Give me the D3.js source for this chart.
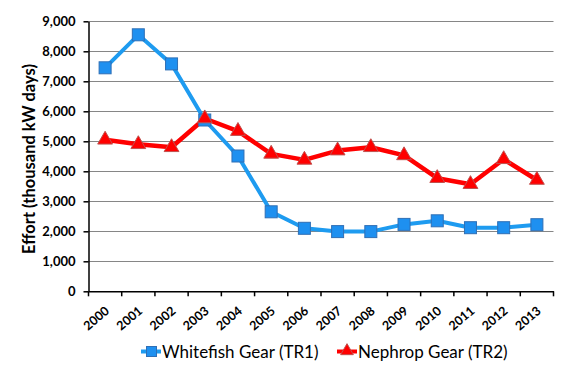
<!DOCTYPE html>
<html><head><meta charset="utf-8">
<script src="https://cdn.jsdelivr.net/npm/d3@7"></script>
<style>body{margin:0;background:#fff;} svg{display:block;font-family:Lato,"Open Sans",sans-serif;}</style>
</head><body>
<svg id="chart" width="586" height="379"></svg>
<script>
const years = ["2000","2001","2002","2003","2004","2005","2006","2007","2008","2009","2010","2011","2012","2013"];
const whitefish = [7450, 8550, 7580, 5710, 4510, 2650, 2100, 1990, 1990, 2230, 2350, 2120, 2120, 2220];
const nephrop = [5050, 4900, 4800, 5760, 5340, 4580, 4380, 4690, 4800, 4530, 3770, 3570, 4400, 3710];
const yTicks = [0,1000,2000,3000,4000,5000,6000,7000,8000,9000];
const seriesNames = ["Whitefish Gear (TR1)", "Nephrop Gear (TR2)"];
const yTitle = "Effort (thousand kW days)";

(function draw() {
const svg = d3.select("#chart");
const pLeft = 88.5, pRight = 553.5, pTop = 21.3, pBottom = 291.3;
const x = d3.scaleBand().domain(years).range([pLeft, pRight]);
const y = d3.scaleLinear().domain([0, 9000]).range([pBottom, pTop]);

svg.append("g").selectAll("line").data(yTicks.filter(d => d > 0)).join("line")
  .attr("x1", pLeft).attr("x2", pRight)
  .attr("y1", d => Math.round(y(d)) + 0.5).attr("y2", d => Math.round(y(d)) + 0.5)
  .attr("stroke", "#868686").attr("stroke-width", 1);

const yAxis = svg.append("g").attr("transform", `translate(${pLeft},0)`)
  .call(d3.axisLeft(y).tickValues(yTicks).tickSize(5).tickSizeOuter(0).tickFormat(d3.format(",")));
yAxis.select(".domain").attr("stroke", "#000").attr("stroke-width", 1.5);
yAxis.selectAll(".tick line").attr("stroke", "#000").attr("stroke-width", 1.5);
yAxis.selectAll(".tick text").attr("font-size", 13).attr("font-weight", "bold")
  .attr("font-family", "Lato").attr("fill", "#000").attr("x", -13);

const xAxis = svg.append("g").attr("transform", `translate(0,${pBottom})`)
  .call(d3.axisBottom(x).tickSize(0).tickSizeOuter(0));
xAxis.select(".domain").attr("stroke", "#000").attr("stroke-width", 1.5);
xAxis.selectAll(".tick line").remove();
const bounds = years.map(d => x(d)).concat([pRight]);
svg.append("g").selectAll("line").data(bounds).join("line")
  .attr("x1", d => d).attr("x2", d => d).attr("y1", pBottom).attr("y2", pBottom + 5)
  .attr("stroke", "#000").attr("stroke-width", 1.5);
xAxis.selectAll(".tick text")
  .attr("font-size", 12.5).attr("font-weight", "bold").attr("font-family", "Lato").attr("fill", "#000")
  .attr("text-anchor", "end").attr("dy", 0).attr("y", 0)
  .attr("transform", "translate(5,21) rotate(-40)");

svg.append("text").attr("transform", "translate(35,159) rotate(-90)")
  .attr("text-anchor", "middle").attr("font-size", 16.5).attr("font-weight", "bold")
  .attr("fill", "#000").text(yTitle);

const cx = d => x(d) + x.bandwidth() / 2;
const line = d3.line().x((d, i) => cx(years[i])).y(d => y(d));

svg.append("path").datum(whitefish).attr("d", line).attr("fill", "none")
  .attr("stroke", "#1E9BF0").attr("stroke-width", 4).attr("stroke-linejoin", "round");
svg.append("path").datum(nephrop).attr("d", line).attr("fill", "none")
  .attr("stroke", "#FF0000").attr("stroke-width", 4.5).attr("stroke-linejoin", "round");

const sq = 12;
svg.append("g").selectAll("rect").data(whitefish).join("rect")
  .attr("x", (d, i) => cx(years[i]) - sq / 2).attr("y", d => y(d) - sq / 2)
  .attr("width", sq).attr("height", sq)
  .attr("fill", "#1E90F0").attr("stroke", "#2F6FB5").attr("stroke-width", 1);

const tri = d3.symbol().type(d3.symbolTriangle).size(95);
svg.append("g").selectAll("path").data(nephrop).join("path")
  .attr("d", tri).attr("transform", (d, i) => `translate(${cx(years[i])},${y(d)})`)
  .attr("fill", "#FF0000").attr("stroke", "#C0504D").attr("stroke-width", 1);

const lg = svg.append("g");
lg.append("line").attr("x1", 141).attr("x2", 161).attr("y1", 351.5).attr("y2", 351.5)
  .attr("stroke", "#1E9BF0").attr("stroke-width", 4);
lg.append("rect").attr("x", 146.5).attr("y", 346.5).attr("width", 10).attr("height", 10)
  .attr("fill", "#1E90F0").attr("stroke", "#2F6FB5").attr("stroke-width", 1);
lg.append("text").attr("x", 162).attr("y", 358).attr("font-size", 17).attr("fill", "#000")
  .text(seriesNames[0]);
lg.append("line").attr("x1", 337).attr("x2", 357).attr("y1", 351.5).attr("y2", 351.5)
  .attr("stroke", "#FF0000").attr("stroke-width", 4);
lg.append("path").attr("d", d3.symbol().type(d3.symbolTriangle).size(70))
  .attr("transform", "translate(347,351)")
  .attr("fill", "#FF0000").attr("stroke", "#C0504D").attr("stroke-width", 1);
lg.append("text").attr("x", 358).attr("y", 358).attr("font-size", 17).attr("fill", "#000")
  .text(seriesNames[1]);
})();
</script>
</body></html>
